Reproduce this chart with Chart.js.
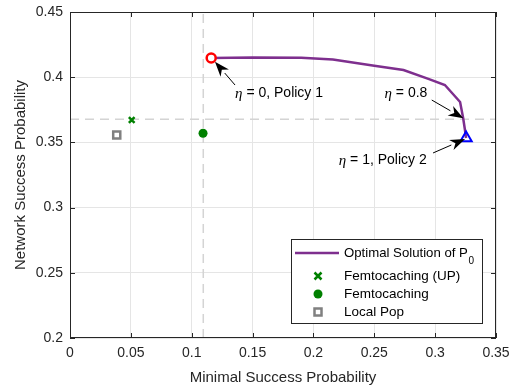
<!DOCTYPE html>
<html>
<head>
<meta charset="utf-8">
<script src="https://cdn.jsdelivr.net/npm/chart.js@4"></script>
<style>
  html, body { margin: 0; padding: 0; background: #fff; }
  #wrap { width: 513px; height: 388px; }
</style>
</head>
<body>
<div id="wrap"><canvas id="c" width="513" height="388"></canvas></div>
<script>
// curve: optimal solution of P0 (eta from 0 to 1)
const optX = [0.116, 0.15, 0.19, 0.216, 0.25, 0.274, 0.295, 0.308, 0.3205, 0.323, 0.3245, 0.3254];
const optY = [0.4147, 0.4152, 0.4149, 0.4135, 0.4088, 0.4055, 0.3985, 0.394, 0.381, 0.3687, 0.3595, 0.3534];

// baselines
const femtoUP = { x: 0.0507, y: 0.3672 };
const femto = { x: 0.1093, y: 0.357 };
const localPop = { x: 0.0384, y: 0.3557 };

// dashed reference lines
const refX = 0.1095;
const refY = 0.3677;

const xTicks = [0, 0.05, 0.1, 0.15, 0.2, 0.25, 0.3, 0.35];
const yTicks = [0.2, 0.25, 0.3, 0.35, 0.4, 0.45];

// annotations: [text after eta, text x, text y, align, tail x, tail y, head x, head y]
const notes = [
  ['0, Policy 1', 0.1356, 0.3877, 'left', 0.1356, 0.3940, 0.1191, 0.4119],
  ['0.8', 0.2936, 0.3880, 'right', 0.2972, 0.3825, 0.3232, 0.3685],
  ['1, Policy 2', 0.2931, 0.3365, 'right', 0.2983, 0.3419, 0.3246, 0.3526]
];

const PURPLE = '#7E2F8E';
const GREEN = '#008000';
const GRAY = '#808080';
const SANS = '"Liberation Sans", Arial, Helvetica, sans-serif';

const pts = optX.map((x, i) => ({ x: x, y: optY[i] }));

function drawArrow(ctx, x1, y1, x2, y2) {
  const a = Math.atan2(y2 - y1, x2 - x1);
  const len = 15, w = 5.5;
  const bx = x2 - len * Math.cos(a), by = y2 - len * Math.sin(a);
  ctx.strokeStyle = '#000';
  ctx.lineWidth = 1;
  ctx.beginPath();
  ctx.moveTo(x1, y1);
  ctx.lineTo(bx, by);
  ctx.stroke();
  ctx.fillStyle = '#000';
  ctx.beginPath();
  ctx.moveTo(x2, y2);
  ctx.lineTo(bx + w * Math.sin(a), by - w * Math.cos(a));
  ctx.lineTo(x2 - 0.7 * len * Math.cos(a), y2 - 0.7 * len * Math.sin(a));
  ctx.lineTo(bx - w * Math.sin(a), by + w * Math.cos(a));
  ctx.closePath();
  ctx.fill();
}

function drawEtaText(ctx, rest, x, y, align) {
  const etaFont = 'italic 15px "Liberation Serif", "DejaVu Serif", serif';
  const restFont = '14px ' + SANS;
  const s = ' = ' + rest;
  ctx.font = etaFont;
  const w1 = ctx.measureText('η').width;
  ctx.font = restFont;
  const w2 = ctx.measureText(s).width;
  const left = align === 'left' ? x : x - w1 - w2;
  ctx.textBaseline = 'middle';
  ctx.textAlign = 'left';
  ctx.fillStyle = '#000';
  ctx.font = etaFont;
  ctx.fillText('η', left, y + 1);
  ctx.font = restFont;
  ctx.fillText(s, left + w1, y);
}

const extras = {
  id: 'extras',
  afterDraw(chart) {
    const ctx = chart.ctx;
    const a = chart.chartArea;
    const xs = chart.scales.x, ys = chart.scales.y;
    ctx.save();
    // box
    ctx.strokeStyle = '#262626';
    ctx.lineWidth = 1;
    ctx.strokeRect(a.left + 0.5, a.top + 0.5, a.right - a.left - 1, a.bottom - a.top - 1);
    // inner ticks on all sides
    ctx.beginPath();
    xTicks.forEach(v => {
      const px = Math.round(xs.getPixelForValue(v)) + 0.5;
      ctx.moveTo(px, a.bottom); ctx.lineTo(px, a.bottom - 5);
      ctx.moveTo(px, a.top); ctx.lineTo(px, a.top + 5);
    });
    yTicks.forEach(v => {
      const py = Math.round(ys.getPixelForValue(v)) + 0.5;
      ctx.moveTo(a.left, py); ctx.lineTo(a.left + 5, py);
      ctx.moveTo(a.right, py); ctx.lineTo(a.right - 5, py);
    });
    ctx.stroke();

    // annotations
    notes.forEach(n => {
      drawArrow(ctx, xs.getPixelForValue(n[4]), ys.getPixelForValue(n[5]),
        xs.getPixelForValue(n[6]), ys.getPixelForValue(n[7]));
      drawEtaText(ctx, n[0], xs.getPixelForValue(n[1]), ys.getPixelForValue(n[2]), n[3]);
    });

    // legend
    const L = 291, T = 239, R = a.right - 14, B = a.bottom - 15;
    ctx.fillStyle = '#fff';
    ctx.fillRect(L, T, R - L, B - T);
    ctx.strokeStyle = '#262626';
    ctx.lineWidth = 1;
    ctx.strokeRect(L + 0.5, T + 0.5, R - L, B - T);
    const mx = 318, tx = 344;
    const rows = [253, 276, 294, 312];
    ctx.strokeStyle = PURPLE;
    ctx.lineWidth = 2.5;
    ctx.beginPath();
    ctx.moveTo(295, rows[0]); ctx.lineTo(339, rows[0]);
    ctx.stroke();
    // x marker
    ctx.strokeStyle = GREEN;
    ctx.lineWidth = 2.5;
    ctx.beginPath();
    ctx.moveTo(mx - 3.5, rows[1] - 3.5); ctx.lineTo(mx + 3.5, rows[1] + 3.5);
    ctx.moveTo(mx + 3.5, rows[1] - 3.5); ctx.lineTo(mx - 3.5, rows[1] + 3.5);
    ctx.stroke();
    // dot
    ctx.fillStyle = GREEN;
    ctx.beginPath();
    ctx.arc(mx, rows[2], 4.5, 0, Math.PI * 2);
    ctx.fill();
    // square
    ctx.strokeStyle = GRAY;
    ctx.lineWidth = 2.5;
    ctx.strokeRect(mx - 3.5, rows[3] - 3.5, 7, 7);

    ctx.fillStyle = '#000';
    ctx.textAlign = 'left';
    ctx.textBaseline = 'middle';
    ctx.font = '13.2px ' + SANS;
    const main = 'Optimal Solution of P';
    ctx.fillText(main, tx, rows[0]);
    const wP = ctx.measureText(main).width;
    ctx.font = '10px ' + SANS;
    ctx.fillText('0', tx + wP + 0.5, rows[0] + 8);
    ctx.font = '13.5px ' + SANS;
    ctx.fillText('Femtocaching (UP)', tx, rows[1]);
    ctx.fillText('Femtocaching', tx, rows[2]);
    ctx.fillText('Local Pop', tx, rows[3]);
    ctx.restore();
  }
};

new Chart(document.getElementById('c'), {
  type: 'scatter',
  data: {
    datasets: [
      {
        label: 'refV',
        data: [{ x: refX, y: 0.2 }, { x: refX, y: 0.45 }],
        showLine: true, borderColor: '#d4d4d4', borderWidth: 1.5, borderDash: [9, 6],
        pointRadius: 0, order: 10
      },
      {
        label: 'refH',
        data: [{ x: 0, y: refY }, { x: 0.35, y: refY }],
        showLine: true, borderColor: '#d4d4d4', borderWidth: 1.5, borderDash: [9, 6],
        pointRadius: 0, order: 10
      },
      {
        label: 'Optimal Solution of P0',
        data: pts,
        showLine: true, borderColor: PURPLE, borderWidth: 2.5,
        pointRadius: 0, tension: 0, order: 3
      },
      {
        label: 'Policy 1',
        data: [pts[0]],
        pointStyle: 'circle', pointRadius: 4.5, borderWidth: 2.5,
        borderColor: '#ff0000', backgroundColor: '#fff', order: 1
      },
      {
        label: 'Policy 2',
        data: [pts[pts.length - 1]],
        pointStyle: 'triangle', pointRadius: 6.5, borderWidth: 2,
        borderColor: '#0000ff', backgroundColor: 'rgba(255,255,255,0)', order: 1
      },
      {
        label: 'Femtocaching (UP)',
        data: [femtoUP],
        pointStyle: 'crossRot', pointRadius: 4, borderWidth: 2.5,
        borderColor: GREEN, order: 2
      },
      {
        label: 'Femtocaching',
        data: [femto],
        pointStyle: 'circle', pointRadius: 4.5, borderWidth: 0,
        backgroundColor: GREEN, order: 2
      },
      {
        label: 'Local Pop',
        data: [localPop],
        pointStyle: 'rect', pointRadius: 5, borderWidth: 2.5,
        borderColor: GRAY, backgroundColor: '#fff', order: 2
      }
    ]
  },
  options: {
    responsive: false,
    animation: false,
    layout: { padding: { top: 12, right: 17, left: 0, bottom: 0 } },
    plugins: { legend: { display: false }, tooltip: { enabled: false } },
    scales: {
      x: {
        type: 'linear', min: 0, max: 0.35,
        afterFit(s) { s.height = 50; s.paddingLeft = 0; s.paddingRight = 0; },
        afterBuildTicks(s) { s.ticks = xTicks.map(v => ({ value: v })); },
        grid: { color: '#e5e5e5', drawTicks: false },
        border: { display: false },
        ticks: {
          padding: 7, color: '#262626', font: { family: SANS, size: 14 },
          callback: v => String(v)
        },
        title: {
          display: true, text: 'Minimal Success Probability', color: '#262626',
          font: { family: SANS, size: 15 }, padding: { top: 0, bottom: 1 }
        }
      },
      y: {
        type: 'linear', min: 0.2, max: 0.45,
        afterFit(s) { s.width = 70; s.paddingTop = 0; s.paddingBottom = 0; },
        afterBuildTicks(s) { s.ticks = yTicks.map(v => ({ value: v })); },
        grid: { color: '#e5e5e5', drawTicks: false },
        border: { display: false },
        ticks: {
          padding: 7, color: '#262626', font: { family: SANS, size: 14 },
          callback: v => String(v)
        },
        title: {
          display: true, text: 'Network Success Probability', color: '#262626',
          font: { family: SANS, size: 15 }, padding: { top: 12, bottom: 0 }
        }
      }
    }
  },
  plugins: [extras]
});
</script>
</body>
</html>
